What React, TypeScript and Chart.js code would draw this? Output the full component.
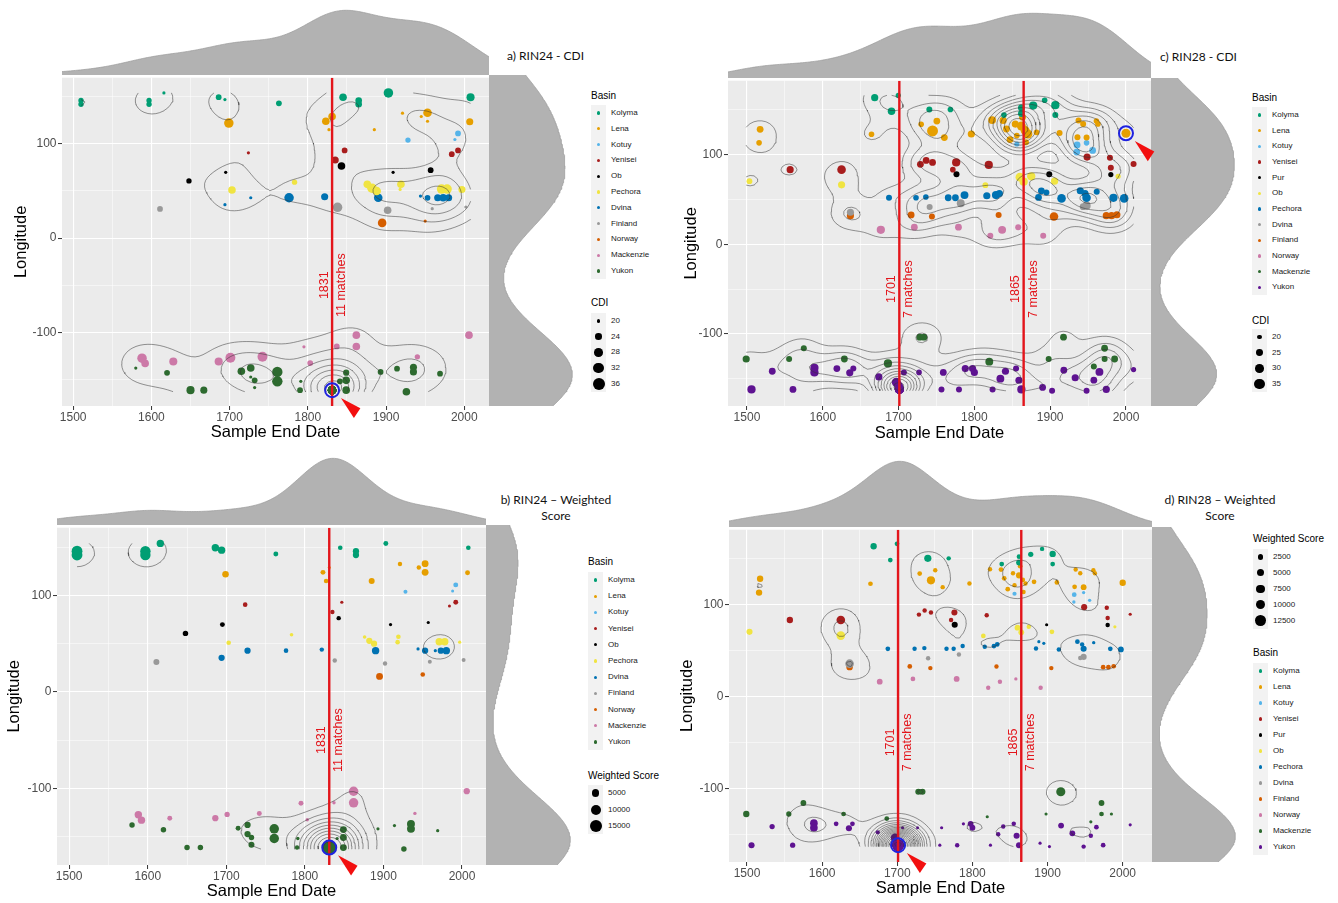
import React, { useEffect, useRef } from 'react';
import { Chart, registerables } from 'chart.js';

Chart.register(...registerables);

const FONT = "'Liberation Sans', Arial, Helvetica, sans-serif";
const TITLE_FONT = "Lato, 'Open Sans', sans-serif";
Chart.defaults.font.family = FONT;

// ---------------- data ----------------
const BASINS_RIN24 = ['Kolyma', 'Lena', 'Kotuy', 'Yenisei', 'Ob', 'Pechora', 'Dvina', 'Finland', 'Norway', 'Mackenzie', 'Yukon'];
const BASINS_RIN28 = ['Kolyma', 'Lena', 'Kotuy', 'Yenisei', 'Pur', 'Ob', 'Pechora', 'Dvina', 'Finland', 'Norway', 'Mackenzie', 'Yukon'];
const BASIN_COLOURS = ['#009E73', '#E69F00', '#56B4E9', '#A81D1D', '#000000', '#F0E442', '#0072B2', '#999999', '#D55E00', '#CC79A7', '#2D6A2F', '#5E1391'];

// RIN24 rows: [sample end date, longitude, CDI, weighted score]
const R24_KOLYMA = [[1510, 146, 22.5, 12000], [1510, 142, 22.5, 12000], [1597, 146, 22.5, 11000], [1597, 142, 22.5, 11000], [1616, 154, 20, 5000], [1686, 149.5, 23, 5000], [1694, 147, 20, 5000], [1763, 143, 23, 1500], [1845, 149.5, 26, 1200], [1865, 146, 24, 3000], [1865, 142, 24, 3000], [1903, 154, 30, 1500], [2008, 149.5, 27, 1200]];
const R24_LENA = [[1699, 122, 30, 3500], [1823, 124, 26, 1500], [1831, 129, 26, 300], [1827, 115, 20, 1200], [1885, 115, 20, 2500], [1921, 132.6, 20, 1000], [1945, 129, 20, 1000], [1953, 133, 28, 4000], [1953, 124, 20, 4000], [2007, 123.5, 25, 1500]];
const R24_KOTUY = [[1928, 104, 22.5, 800], [1992, 111, 23, 1500], [1988, 104.6, 20, 300]];
const R24_YENISEI = [[1724, 90.5, 20, 1200], [1835, 82.8, 25, 1000], [1847, 93, 23, 400], [1984, 89, 23, 300], [1992, 93, 23, 1500]];
const R24_OB = [[1648, 60.7, 22.5, 2000], [1695, 69.8, 20, 1500], [1843, 76.5, 26, 1000], [1909, 69.8, 20, 400], [1957, 72, 23, 400]];
const R24_PECHORA = [[1703, 51, 26, 1200], [1783, 59.3, 22.5, 600], [1876, 57, 26, 600], [1882, 53, 30, 3000], [1888, 50, 28, 3000], [1919, 57.2, 26, 1200], [1918, 51.6, 20, 1200], [1971, 52, 30, 5000], [1978, 52, 30, 5000], [1997, 51.6, 25, 400]];
const R24_DVINA = [[1694, 35.4, 20, 3000], [1727, 42.8, 20, 3000], [1776, 42.8, 30, 1200], [1821.5, 43.9, 25, 1000], [1890, 42.8, 28, 5000], [1944, 44.6, 20, 400], [1953, 42.8, 23, 3000], [1966, 42.8, 25, 400], [1973, 42.8, 26, 3000], [1980, 42.8, 25, 5000]];
const R24_FINLAND = [[1611, 30.9, 23, 2500], [1838, 32.6, 30, 1000], [1902, 29.5, 26, 1000], [1959, 31.2, 20, 800], [2002, 33, 20, 800]];
const R24_NORWAY = [[1895, 16.1, 28, 4000], [1950, 18, 20, 1200]];
const R24_MACKENZIE = [[1588, -127.4, 30, 5000], [1592, -133, 26, 5000], [1628, -131, 27, 1500], [1686, -131, 27, 3000], [1701, -127, 31, 1800], [1742, -126, 31, 1500], [1795, -115.4, 20, 1500], [1803, -132.6, 23, 500], [1837, -115, 23, 500], [1862, -103, 26, 9000], [1862, -115, 26, 9000], [1940, -126, 22.5, 500], [2006, -103, 26, 3000]];
const R24_YUKON = [[1580, -138, 20, 2000], [1620, -143, 23, 2000], [1650, -161.4, 27, 2000], [1667, -161.4, 25, 2000], [1715, -141.4, 26, 1500], [1727, -137.9, 26, 3000], [1727, -147.4, 20, 3000], [1732, -151, 23, 2000], [1732, -158.6, 20, 2500], [1761, -142, 32, 9000], [1761, -152, 32, 9000], [1791, -152, 20, 500], [1790, -161.4, 23, 1000], [1831, -161.4, 28, 16000], [1841, -152, 23, 400], [1849, -142.8, 23.5, 4000], [1849, -151, 26, 4000], [1849, -161.4, 26, 4000], [1893, -142, 23, 400], [1914, -138.6, 23, 400], [1935, -137, 25, 6000], [1935, -142, 25, 6000], [1926, -163, 26, 2000], [1969, -143.9, 23, 400]];
// the other matched series stacked on the highlighted site (11 matches in all)
const R24_MATCH_STACK = [[1831, -161.4, 28, 16000], [1831, -161.4, 28, 16000], [1831, -161.4, 28, 16000], [1831, -161.4, 28, 16000], [1831, -161.4, 28, 16000], [1831, -161.4, 28, 16000], [1831, -161.4, 28, 16000], [1831, -161.4, 28, 16000], [1831, -161.4, 28, 16000], [1831, -161.4, 28, 16000]];

// RIN28 rows: [sample end date, longitude, CDI, weighted score]
const R28_KOLYMA = [[1668.5, 163.8, 26, 3500], [1699.6, 166.4, 21, 1500], [1690.7, 148.7, 27, 1500], [1740.6, 150.6, 23, 5000], [1768.4, 150.6, 22, 1200], [1839, 144.3, 22, 1500], [1862, 152.4, 25, 1500], [1862, 146, 25, 2500], [1877.6, 155, 29, 2000], [1892.7, 160.9, 22, 1200], [1906.8, 155.4, 29, 3500], [1906.8, 144.3, 23, 1500]];
const R28_LENA = [[1517.4, 128.4, 25, 3500], [1516, 113.3, 22, 3500], [1664.3, 122.9, 22, 1500], [1729.8, 134, 22, 1500], [1750.5, 137.6, 25, 1200], [1744.8, 126.6, 36, 7000], [1760.4, 119.2, 25, 1200], [1796, 123.2, 26, 1200], [1823.4, 138.7, 28, 1200], [1838, 138.4, 26, 1500], [1842.3, 128.8, 25, 1500], [1847, 117, 25, 1500], [1854, 134.3, 26, 1200], [1862, 132, 31, 3000], [1863.5, 142, 25, 1500], [1867, 127, 31, 1500], [1870.6, 123.2, 31, 1200], [1856, 121.4, 22, 1200], [1868, 114, 23, 1200], [1882, 125, 22, 1500], [1912.4, 124.4, 23, 1500], [1937.4, 138.4, 23, 1200], [1943.5, 134.3, 23, 1200], [1961, 137.6, 22, 1200], [1963, 134.3, 22, 1200], [1936, 119.6, 23, 1500], [1948, 119.2, 23, 2500], [2000, 124, 31, 3500]];
const R28_KOTUY = [[1935.5, 111, 25, 1500], [1935, 103, 25, 500], [1948, 113.3, 22, 500], [1956, 104.8, 25, 500], [1856, 112, 21, 1000]];
const R28_YENISEI = [[1557, 83.4, 26, 3500], [1624.8, 83.4, 30, 8000], [1728.8, 89.3, 25, 1200], [1736.4, 93.7, 25, 1200], [1744.8, 91.5, 25, 1200], [1776, 91.5, 29, 3000], [1771.6, 83.4, 22, 1200], [1819, 88.6, 29, 1200], [1948.7, 97.4, 26, 3000], [1978.8, 96.7, 23, 1200], [1980, 85.6, 23, 1200], [2010, 89.7, 23, 400]];
const R28_PUR = [[1776.4, 78.2, 23, 3000], [1898.8, 78.2, 23, 400], [1980, 77.9, 21, 1200]];
const R28_OB = [[1503.3, 70.5, 22.5, 3000], [1624.8, 66.4, 26, 8000], [1814.5, 66, 22.5, 1500], [1860, 75, 30, 2500], [1865, 70, 29, 2500], [1875, 76, 29, 1200], [1905.8, 70.5, 26, 1500], [1989.6, 76, 21, 400]];
const R28_PECHORA = [[1687.4, 52, 23, 1500], [1723, 52, 22, 1200], [1736, 52.8, 22, 1200], [1765.5, 52, 25, 1200], [1775, 52, 25, 1200], [1787, 55, 28, 1200], [1816.4, 54.2, 26, 1200], [1828.6, 55, 29, 1500], [1833, 56.8, 26, 1500], [1884.6, 52.4, 25, 1200], [1888.4, 59.8, 25, 400], [1895, 58, 23, 400], [1915, 51.3, 30, 1200], [1939.7, 59.8, 26, 1500], [1948, 52, 30, 3000], [1961.4, 58.7, 23, 500], [1983.5, 52, 29, 1500], [1997.6, 51.3, 30, 2500], [1946, 56.8, 26, 1200]];
const R28_DVINA = [[1636.5, 35.8, 26, 8000], [1741, 41.7, 23, 1200], [1782, 45.8, 28, 1200], [1948, 43.2, 29, 3000], [1943.5, 42, 25, 1200]];
const R28_FINLAND = [[1636.5, 32, 26, 3500], [1716.6, 32.8, 25, 1500], [1744, 31, 23, 1200], [1832, 32.8, 23, 1200], [1905, 31, 30, 1200], [1974, 32, 26, 1500], [1981, 32, 26, 1500], [1988, 33, 26, 1500]];
const R28_NORWAY = [[1676.6, 16.2, 29, 2500], [1720.8, 19.2, 25, 1500], [1779, 19.2, 25, 2500], [1821, 9.6, 23, 1200], [1836.6, 16.2, 28, 1200], [1857.8, 19.2, 23, 500], [1890.8, 9.6, 23, 1200]];
const R28_MACKENZIE = [[1499, -128, 26, 3500], [1555.6, -128, 23, 2000], [1575, -116, 23, 2500], [1628.5, -128, 25, 1500], [1686, -133, 29, 1500], [1728, -103.7, 25, 3000], [1733.5, -103.7, 25, 3000], [1819.7, -131, 28, 400], [1898, -128, 23, 400], [1917.6, -103.7, 25, 9000], [1971.8, -116, 25, 2500], [1971.8, -128, 23, 1500], [1957.6, -136.5, 23, 400], [1985, -128, 25, 400]];
const R28_YUKON = [[1506, -162, 29, 3000], [1533.4, -141.7, 25, 2000], [1560.7, -162, 25, 2000], [1589, -138, 29, 6000], [1589, -143, 29, 6000], [1618.6, -138.7, 25, 1500], [1635.6, -143.5, 26, 3000], [1640.3, -138.7, 23, 1500], [1674, -148, 26, 1000], [1697, -154, 31, 8000], [1700, -158, 31, 3000], [1701, -162, 31, 14000], [1707, -143, 23, 400], [1727, -143, 22, 300], [1759, -143, 25, 400], [1756.6, -162, 23, 400], [1779.7, -162, 23, 1200], [1788, -138.7, 26, 400], [1797.6, -138.7, 26, 2500], [1800, -143, 26, 2500], [1824, -162, 23, 400], [1834.3, -150, 28, 1200], [1841, -141.7, 26, 1200], [1855, -138.7, 23, 1200], [1858.8, -151.7, 26, 3000], [1862, -162, 29, 3000], [1890, -159.8, 25, 400], [1902.5, -163.5, 23, 400], [1918, -140.6, 25, 2500], [1933, -149, 26, 2500], [1948, -163.5, 23, 1200], [1957.6, -151.7, 25, 1200], [1965, -142.4, 28, 1500], [1974, -162, 26, 1500], [2010, -139.8, 21, 400]];
// the other matched series stacked on the highlighted site (7 matches in all)
const R28_MATCH_STACK = [[1701, -162, 31, 14000], [1701, -162, 31, 14000], [1701, -162, 31, 14000], [1701, -162, 31, 14000], [1701, -162, 31, 14000], [1701, -162, 31, 14000]];

const RIN24_GROUPS = [R24_KOLYMA, R24_LENA, R24_KOTUY, R24_YENISEI, R24_OB, R24_PECHORA, R24_DVINA, R24_FINLAND, R24_NORWAY, R24_MACKENZIE, R24_YUKON.concat(R24_MATCH_STACK)];
const RIN28_GROUPS = [R28_KOLYMA, R28_LENA, R28_KOTUY, R28_YENISEI, R28_PUR, R28_OB, R28_PECHORA, R28_DVINA, R28_FINLAND, R28_NORWAY, R28_MACKENZIE, R28_YUKON.concat(R28_MATCH_STACK)];

const MATCH_YEARS_RIN24 = [1831];
const MATCH_COUNTS_RIN24 = [11];
const MATCH_YEARS_RIN28 = [1701, 1865];
const MATCH_COUNTS_RIN28 = [7, 7];
const MATCH_LABEL_LON = -50;
const HIGHLIGHT_RIN24 = [1831, -161.4];
const HIGHLIGHT_RIN28_CDI = [2000, 124];
const HIGHLIGHT_RIN28_WS = [1701, -162];

const X_TICKS = [1500, 1550, 1600, 1650, 1700, 1750, 1800, 1850, 1900, 1950, 2000];
const Y_TICKS = [-150, -100, -50, 0, 50, 100, 150];
const CDI_KEYS_RIN24 = [20, 24, 28, 32, 36];
const CDI_KEYS_RIN28 = [20, 25, 30, 35];
const WS_KEYS_RIN24 = [5000, 10000, 15000];
const WS_KEYS_RIN28 = [2500, 5000, 7500, 10000, 12500];

// size scales: value -> point radius (px)
const SIZE_CDI_RIN24 = [[19.5, 1.3], [20, 1.6], [24, 3.3], [28, 4.3], [32, 5.2], [36, 6.0], [38, 6.4]];
const SIZE_WS_RIN24 = [[0, 1.1], [300, 1.5], [1000, 2.2], [2500, 3.0], [5000, 3.7], [10000, 5.0], [15000, 6.0], [17000, 6.3]];
const SIZE_CDI_RIN28 = [[17, 1.8], [20, 2.4], [25, 3.4], [30, 4.3], [35, 5.3], [38, 5.8]];
const SIZE_WS_RIN28 = [[0, 1.1], [300, 1.5], [1000, 2.1], [2500, 2.9], [5000, 3.6], [7500, 4.2], [10000, 4.8], [12500, 5.4], [15000, 5.9]];

// ---------------- styles / layout ----------------
const RED = '#E3151B';
const PANEL_BG = '#EBEBEB';
const MARGIN_FILL = '#B2B2B2';

const PANELS: any[] = [
  {
    key: 'a', basins: BASINS_RIN24, groups: RIN24_GROUPS, sizeIdx: 2, sizeTable: SIZE_CDI_RIN24, weighted: false, bw2d: [26, 18], rings: 7,
    plot: { l: 62, t: 75, r: 489, b: 406 }, canvasLeft: 0, yTitleX: 21, xTitleY: 432,
    xRange: [1485.7, 2031.6], yRange: [-178.2, 170.2],
    matches: MATCH_YEARS_RIN24, counts: MATCH_COUNTS_RIN24, highlight: HIGHLIGHT_RIN24,
    title: { lines: ['a) RIN24 - CDI'], left: 507, cy: 56, centered: false },
    legends: [
      { kind: 'basin', left: 591, titleY: 96, firstY: 113, step: 15.8 },
      { kind: 'size', title: 'CDI', keys: CDI_KEYS_RIN24, table: SIZE_CDI_RIN24, left: 591, titleY: 303, firstY: 321, step: 15.7 },
    ],
  },
  {
    key: 'b', basins: BASINS_RIN24, groups: RIN24_GROUPS, sizeIdx: 3, sizeTable: SIZE_WS_RIN24, weighted: true, bw2d: [26, 18], rings: 10,
    plot: { l: 57, t: 525, r: 486, b: 865 }, canvasLeft: 0, yTitleX: 14, xTitleY: 891,
    xRange: [1484.5, 2030.5], yRange: [-179.5, 170.3],
    matches: MATCH_YEARS_RIN24, counts: MATCH_COUNTS_RIN24, highlight: HIGHLIGHT_RIN24,
    title: { lines: ['b) RIN24 \u2013 Weighted', 'Score'], cx: 556, cy: 500, centered: true },
    legends: [
      { kind: 'basin', left: 588, titleY: 562, firstY: 580, step: 16.2 },
      { kind: 'size', title: 'Weighted Score', keys: WS_KEYS_RIN24, table: SIZE_WS_RIN24, left: 588, titleY: 776, firstY: 793, step: 16.5 },
    ],
  },
  {
    key: 'c', basins: BASINS_RIN28, groups: RIN28_GROUPS, sizeIdx: 2, sizeTable: SIZE_CDI_RIN28, weighted: false, bw2d: [20, 13], rings: 10,
    plot: { l: 728, t: 78, r: 1151, b: 406 }, canvasLeft: 680, yTitleX: 691, xTitleY: 433,
    xRange: [1475, 2033], yRange: [-180.5, 182.7],
    matches: MATCH_YEARS_RIN28, counts: MATCH_COUNTS_RIN28, highlight: HIGHLIGHT_RIN28_CDI,
    title: { lines: ['c) RIN28 - CDI'], left: 1160, cy: 57, centered: false },
    legends: [
      { kind: 'basin', left: 1252, titleY: 98, firstY: 115, step: 15.66 },
      { kind: 'size', title: 'CDI', keys: CDI_KEYS_RIN28, table: SIZE_CDI_RIN28, left: 1252, titleY: 321, firstY: 337, step: 15.67 },
    ],
  },
  {
    key: 'd', basins: BASINS_RIN28, groups: RIN28_GROUPS, sizeIdx: 3, sizeTable: SIZE_WS_RIN28, weighted: true, bw2d: [20, 13], rings: 18,
    plot: { l: 729, t: 527, r: 1152, b: 862 }, canvasLeft: 676, yTitleX: 687, xTitleY: 888,
    xRange: [1476, 2039], yRange: [-180.3, 181.8],
    matches: MATCH_YEARS_RIN28, counts: MATCH_COUNTS_RIN28, highlight: HIGHLIGHT_RIN28_WS,
    title: { lines: ['d) RIN28 \u2013 Weighted', 'Score'], cx: 1220, cy: 500, centered: true },
    legends: [
      { kind: 'size', title: 'Weighted Score', keys: WS_KEYS_RIN28, table: SIZE_WS_RIN28, left: 1253, titleY: 539, firstY: 556.7, step: 16 },
      { kind: 'basin', left: 1253, titleY: 653, firstY: 671, step: 16 },
    ],
  },
];

// ---------------- statistics helpers ----------------
function sizeOf(table: number[][], v: number): number {
  if (v <= table[0][0]) return table[0][1];
  for (let i = 1; i < table.length; i++) {
    if (v <= table[i][0]) {
      const a = table[i - 1], b = table[i];
      return a[1] + (b[1] - a[1]) * (v - a[0]) / (b[0] - a[0]);
    }
  }
  return table[table.length - 1][1];
}

function quantile(s: number[], p: number) {
  const h = (s.length - 1) * p;
  const lo = Math.floor(h);
  const hi = Math.min(lo + 1, s.length - 1);
  return s[lo] + (h - lo) * (s[hi] - s[lo]);
}

function bwNrd0(v: number[]) {
  const n = v.length;
  const m = v.reduce((a, b) => a + b, 0) / n;
  const sd = Math.sqrt(v.reduce((a, b) => a + (b - m) * (b - m), 0) / (n - 1));
  const s = [...v].sort((a, b) => a - b);
  const iqr = quantile(s, 0.75) - quantile(s, 0.25);
  return 0.9 * Math.min(sd, iqr / 1.34) * Math.pow(n, -0.2);
}

function density1d(vals: number[], wts: number[], lo: number, hi: number, bw: number, n = 256) {
  const W = wts.reduce((a, b) => a + b, 0);
  const out: { t: number; d: number }[] = [];
  for (let i = 0; i < n; i++) {
    const t = lo + (hi - lo) * i / (n - 1);
    let s = 0;
    for (let k = 0; k < vals.length; k++) {
      const u = (t - vals[k]) / bw;
      s += wts[k] * Math.exp(-0.5 * u * u);
    }
    out.push({ t, d: s / (W * bw * Math.sqrt(2 * Math.PI)) });
  }
  return out;
}

function density2d(xs: number[], ys: number[], ws: number[], hx: number, hy: number, n = 100) {
  const x0 = Math.min(...xs), x1 = Math.max(...xs), y0 = Math.min(...ys), y1 = Math.max(...ys);
  const gx: number[] = [], gy: number[] = [];
  for (let i = 0; i < n; i++) { gx.push(x0 + (x1 - x0) * i / (n - 1)); gy.push(y0 + (y1 - y0) * i / (n - 1)); }
  const kx = gx.map((g) => xs.map((x) => Math.exp(-0.5 * ((g - x) / hx) ** 2)));
  const ky = gy.map((g) => ys.map((y) => Math.exp(-0.5 * ((g - y) / hy) ** 2)));
  const z = gy.map((_, j) => gx.map((__, i) => {
    let s = 0;
    for (let k = 0; k < xs.length; k++) s += ws[k] * kx[i][k] * ky[j][k];
    return s;
  }));
  return { gx, gy, z };
}

function contourData(g: { gx: number[]; gy: number[]; z: number[][] }, rings: number) {
  const { gx, gy, z } = g;
  let max = 0;
  z.forEach((row) => row.forEach((v) => { if (v > max) max = v; }));
  const step = max / (rings + 0.5);
  const out: any[] = [];
  const ny = gy.length, nx = gx.length;
  for (let k = 1; k <= rings; k++) {
    const L = step * k;
    for (let j = 0; j < ny - 1; j++) {
      for (let i = 0; i < nx - 1; i++) {
        const a = z[j][i], b = z[j][i + 1], c = z[j + 1][i + 1], d = z[j + 1][i];
        const idx = (a > L ? 8 : 0) | (b > L ? 4 : 0) | (c > L ? 2 : 0) | (d > L ? 1 : 0);
        if (idx === 0 || idx === 15) continue;
        const T = () => ({ x: gx[i] + (gx[i + 1] - gx[i]) * (L - a) / (b - a), y: gy[j] });
        const R = () => ({ x: gx[i + 1], y: gy[j] + (gy[j + 1] - gy[j]) * (L - b) / (c - b) });
        const B = () => ({ x: gx[i] + (gx[i + 1] - gx[i]) * (L - d) / (c - d), y: gy[j + 1] });
        const Lf = () => ({ x: gx[i], y: gy[j] + (gy[j + 1] - gy[j]) * (L - a) / (d - a) });
        const seg = (p: any, q: any) => { out.push(p, q, { x: q.x, y: null }); };
        switch (idx) {
          case 1: case 14: seg(Lf(), B()); break;
          case 2: case 13: seg(B(), R()); break;
          case 3: case 12: seg(Lf(), R()); break;
          case 4: case 11: seg(T(), R()); break;
          case 5: seg(T(), R()); seg(Lf(), B()); break;
          case 6: case 9: seg(T(), B()); break;
          case 7: case 8: seg(Lf(), T()); break;
          case 10: seg(Lf(), T()); seg(B(), R()); break;
          default: break;
        }
      }
    }
  }
  return out;
}

// ---------------- chart configs ----------------
const TOP_PAD = 6;
const RIGHT_PAD = 10;
const BOTTOM_EXTRA = 12;

function mainConfig(p: any) {
  const datasets: any[] = [];
  p.groups.forEach((rows: number[][], bi: number) => {
    datasets.push({
      label: p.basins[bi],
      data: rows.map((r) => ({ x: r[0], y: r[1] })),
      pointRadius: rows.map((r) => sizeOf(p.sizeTable, r[p.sizeIdx])),
      pointBackgroundColor: BASIN_COLOURS[bi],
      pointBorderColor: BASIN_COLOURS[bi],
      pointBorderWidth: 0,
      order: 10,
    });
  });
  const all: number[][] = p.groups.flat();
  const grid = density2d(all.map((r) => r[0]), all.map((r) => r[1]), all.map((r) => (p.weighted ? r[3] : 1)), p.bw2d[0], p.bw2d[1]);
  datasets.push({
    label: 'density', data: contourData(grid, p.rings), showLine: true, spanGaps: false,
    borderColor: 'rgba(50,50,50,0.85)', borderWidth: 0.6, pointRadius: 0, order: 5,
  });
  p.matches.forEach((m: number) => {
    datasets.push({
      label: 'match', data: [{ x: m, y: p.yRange[0] }, { x: m, y: p.yRange[1] }], showLine: true,
      borderColor: RED, borderWidth: 2.4, pointRadius: 0, order: 3,
    });
  });
  datasets.push({
    label: 'highlight', data: [{ x: p.highlight[0], y: p.highlight[1] }], pointRadius: 7, pointBorderWidth: 2,
    pointBorderColor: '#1F22E0', pointBackgroundColor: 'rgba(0,0,0,0)', order: 2,
  });

  const xAxisH = p.xTitleY + BOTTOM_EXTRA - p.plot.b;
  const yAxisW = p.plot.l - p.canvasLeft;
  const deco = {
    id: 'deco' + p.key,
    beforeDraw(chart: any) {
      const { ctx, chartArea: a } = chart;
      ctx.save();
      ctx.fillStyle = PANEL_BG;
      ctx.fillRect(a.left, a.top, a.right - a.left, a.bottom - a.top);
      ctx.restore();
    },
    afterDatasetsDraw(chart: any) {
      const { ctx } = chart;
      const xs = chart.scales.x, ys = chart.scales.y;
      ctx.save();
      ctx.fillStyle = RED;
      ctx.font = `12.5px ${FONT}`;
      ctx.textAlign = 'center';
      ctx.textBaseline = 'middle';
      p.matches.forEach((m: number, i: number) => {
        const px = xs.getPixelForValue(m);
        const py = ys.getPixelForValue(MATCH_LABEL_LON);
        const rot = (txt: string, x: number) => {
          ctx.save(); ctx.translate(x, py); ctx.rotate(-Math.PI / 2); ctx.fillText(txt, 0, 0); ctx.restore();
        };
        rot(String(m), px - 8);
        rot(`${p.counts[i]} matches`, px + 9.5);
      });
      ctx.restore();
    },
    afterDraw(chart: any) {
      const { ctx } = chart;
      const hx = chart.scales.x.getPixelForValue(p.highlight[0]);
      const hy = chart.scales.y.getPixelForValue(p.highlight[1]);
      ctx.save();
      ctx.fillStyle = '#F20F0F';
      ctx.beginPath();
      ctx.moveTo(hx + 8.8, hy + 7.8);
      ctx.lineTo(hx + 28.3, hy + 18.2);
      ctx.lineTo(hx + 21.8, hy + 27.9);
      ctx.closePath();
      ctx.fill();
      ctx.restore();
    },
  };

  const gridLW = (c: any) => (c.tick && c.tick.value % 100 === 0 ? 1.1 : 0.5);
  const tickCol = (c: any) => (c.tick && c.tick.value % 100 === 0 ? '#333333' : 'rgba(0,0,0,0)');

  return {
    type: 'scatter',
    data: { datasets },
    options: {
      responsive: false, animation: false, events: [],
      layout: { padding: { top: TOP_PAD, right: RIGHT_PAD, left: 0, bottom: 0 }, autoPadding: false },
      plugins: { legend: { display: false }, tooltip: { enabled: false } },
      scales: {
        x: {
          type: 'linear', min: p.xRange[0], max: p.xRange[1],
          afterBuildTicks: (s: any) => { s.ticks = X_TICKS.map((v) => ({ value: v })); },
          afterFit: (s: any) => { s.height = xAxisH; },
          ticks: { callback: (v: any) => (v % 100 === 0 ? String(v) : ''), autoSkip: false, maxRotation: 0, minRotation: 0, padding: 0, color: '#4D4D4D', font: { size: 12 } },
          grid: { color: '#FFFFFF', lineWidth: gridLW, tickLength: 4, tickColor: tickCol, tickWidth: 1 },
          border: { display: false },
          title: { display: true, text: 'Sample End Date', color: '#000000', font: { size: 16.5, lineHeight: 1.2 }, padding: { top: 0, bottom: BOTTOM_EXTRA - 9.9 } },
        },
        y: {
          type: 'linear', min: p.yRange[0], max: p.yRange[1],
          afterBuildTicks: (s: any) => { s.ticks = Y_TICKS.map((v) => ({ value: v })); },
          afterFit: (s: any) => { s.width = yAxisW; },
          ticks: { callback: (v: any) => (v % 100 === 0 ? String(v) : ''), autoSkip: false, padding: 1.5, color: '#4D4D4D', font: { size: 12 } },
          grid: { color: '#FFFFFF', lineWidth: gridLW, tickLength: 4, tickColor: tickCol, tickWidth: 1 },
          border: { display: false },
          title: { display: true, text: 'Longitude', color: '#000000', font: { size: 16.5, lineHeight: 1.2 }, padding: { top: p.yTitleX - p.canvasLeft - 9.9, bottom: 0 } },
        },
      },
    },
    plugins: [deco],
  };
}

function marginConfig(p: any, side: 'top' | 'right') {
  const all: number[][] = p.groups.flat();
  const col = side === 'top' ? 0 : 1;
  const vals = all.map((r) => r[col]);
  const wts = all.map((r) => (p.weighted ? r[3] : 1));
  const range = side === 'top' ? p.xRange : p.yRange;
  const dens = density1d(vals, wts, range[0], range[1], bwNrd0(vals));
  const peak = Math.max(...dens.map((q) => q.d));
  const data = dens.map((q) => (side === 'top' ? { x: q.t, y: q.d } : { x: q.d, y: q.t }));
  const densAxis = { type: 'linear', display: false, min: 0, max: peak * 1.02 };
  const posAxis = { type: 'linear', display: false, min: range[0], max: range[1] };
  return {
    type: 'line',
    data: {
      datasets: [{
        data, fill: 'origin', backgroundColor: MARGIN_FILL, borderColor: '#9A9A9A', borderWidth: 0.7,
        pointRadius: 0, tension: 0,
      }],
    },
    options: {
      indexAxis: side === 'top' ? 'x' : 'y',
      responsive: false, animation: false, events: [],
      layout: { padding: 0, autoPadding: false },
      plugins: { legend: { display: false }, tooltip: { enabled: false } },
      scales: side === 'top' ? { x: posAxis, y: densAxis } : { x: densAxis, y: posAxis },
    },
  };
}

// ---------------- components ----------------
function ChartCanvas({ left, top, width, height, z, build }: any) {
  const ref = useRef<HTMLCanvasElement | null>(null);
  useEffect(() => {
    if (!ref.current) return undefined;
    const chart = new Chart(ref.current, build());
    return () => chart.destroy();
  }, []);
  return (
    <canvas ref={ref} width={width} height={height}
      style={{ position: 'absolute', left, top, width, height, zIndex: z, display: 'block' }} />
  );
}

function Legend({ spec, basins }: any) {
  const n = spec.kind === 'basin' ? basins.length : spec.keys.length;
  const title = spec.kind === 'basin' ? 'Basin' : spec.title;
  const items: any[] = [];
  for (let i = 0; i < n; i++) {
    const cy = spec.firstY + i * spec.step;
    const r = spec.kind === 'basin' ? 1.6 : sizeOf(spec.table, spec.keys[i]);
    const colour = spec.kind === 'basin' ? BASIN_COLOURS[i] : '#000000';
    const label = spec.kind === 'basin' ? basins[i] : String(spec.keys[i]);
    items.push(
      <div key={'d' + i} style={{ position: 'absolute', left: spec.left + 7.5 - r, top: cy - r, width: 2 * r, height: 2 * r, borderRadius: '50%', background: colour }} />,
      <div key={'l' + i} style={{ position: 'absolute', left: spec.left + 20, top: cy - 5, font: `8px ${FONT}`, lineHeight: '10px', color: '#1A1A1A', whiteSpace: 'nowrap' }}>{label}</div>,
    );
  }
  return (
    <>
      <div style={{ position: 'absolute', left: spec.left, top: spec.titleY - 7, font: `10px ${FONT}`, lineHeight: '14px', color: '#000', whiteSpace: 'nowrap' }}>{title}</div>
      <div style={{ position: 'absolute', left: spec.left, top: spec.firstY - spec.step / 2, width: 15, height: spec.step * n, background: '#F2F2F2' }} />
      {items}
    </>
  );
}

function PanelTitle({ t }: any) {
  const style: any = { position: 'absolute', font: `12px ${TITLE_FONT}`, lineHeight: '16px', color: '#111', whiteSpace: 'nowrap' };
  if (t.centered) {
    return <div style={{ ...style, left: t.cx - 80, width: 160, top: t.cy - 8, textAlign: 'center' }}>{t.lines.map((l: string, i: number) => <div key={i}>{l}</div>)}</div>;
  }
  return <div style={{ ...style, left: t.left, top: t.cy - 8 }}>{t.lines[0]}</div>;
}

function Panel({ p }: any) {
  const { plot } = p;
  const pw = plot.r - plot.l, ph = plot.b - plot.t;
  const mh = Math.round(ph / 5), mw = Math.round(pw / 5);
  const mainTop = plot.t - TOP_PAD;
  const mainH = p.xTitleY + BOTTOM_EXTRA - mainTop;
  const mainW = plot.r + RIGHT_PAD - p.canvasLeft;
  return (
    <>
      <ChartCanvas left={plot.l} top={plot.t - mh} width={pw} height={mh} z={1} build={() => marginConfig(p, 'top')} />
      <ChartCanvas left={plot.r} top={plot.t} width={mw} height={ph} z={1} build={() => marginConfig(p, 'right')} />
      <ChartCanvas left={p.canvasLeft} top={mainTop} width={mainW} height={mainH} z={2} build={() => mainConfig(p)} />
      <PanelTitle t={p.title} />
      {p.legends.map((l: any, i: number) => <Legend key={i} spec={l} basins={p.basins} />)}
    </>
  );
}

export default function App() {
  return (
    <div style={{ position: 'absolute', left: 0, top: 0, width: 1338, height: 903, background: '#FFFFFF', overflow: 'hidden' }}>
      {PANELS.map((p) => <Panel key={p.key} p={p} />)}
    </div>
  );
}
